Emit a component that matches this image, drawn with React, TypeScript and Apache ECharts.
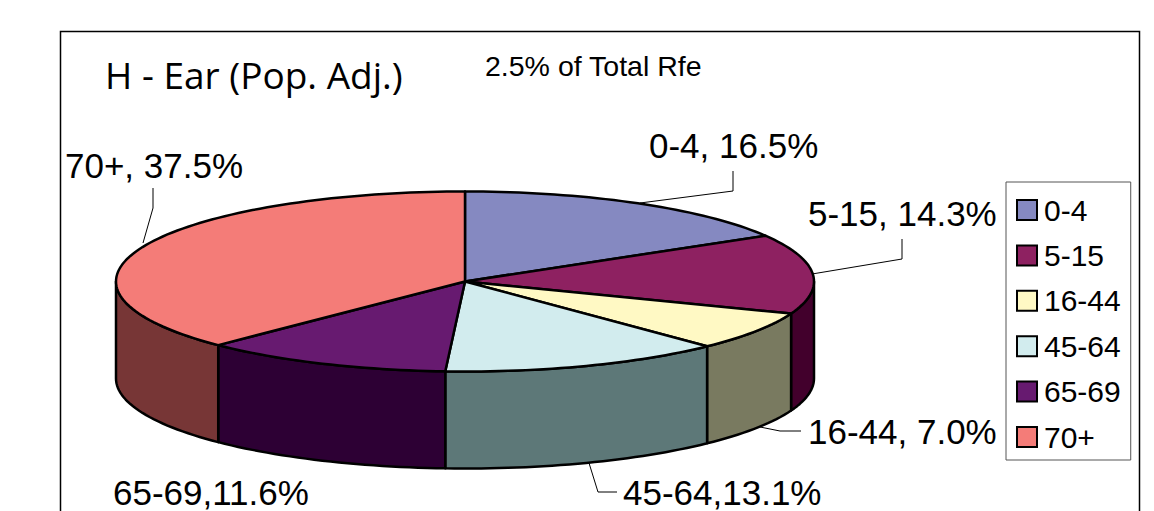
import React, { useEffect, useRef } from "react";
import * as echarts from "echarts";

const categories = ["0-4", "5-15", "16-44", "45-64", "65-69", "70+"];
const shares = [16.5, 14.3, 7.0, 13.1, 11.6, 37.5];
const topColors = ["#8589C1", "#8E2161", "#FFF9C4", "#D2ECEE", "#671A70", "#F47C78"];
const sideColors = ["#42446A", "#42002C", "#797A60", "#5D7878", "#2D0034", "#773636"];
const labelSeparators = [", ", ", ", ", ", ",", ",", ", "];
const labelAnchors = [[649, 145], [808, 213], [808, 431], [623, 492], [113, 492], [65, 165]];
const leaders = [
  [[640, 203], [733, 191], [733, 171]],
  [[812, 274], [902, 259], [902, 239]],
  [[760, 427], [780, 431], [801, 431]],
  [[589, 463], [598, 492], [617, 492]],
  null,
  [[143, 243], [153, 208], [153, 188]],
];

const CX = 465;
const CY = 281.5;
const RX = 349;
const RY = 90;
const DEPTH = 97;

function rim(deg: number, drop = 0): number[] {
  const a = (deg * Math.PI) / 180;
  return [CX + RX * Math.sin(a), CY - RY * Math.cos(a) + drop];
}

function arc(from: number, to: number, drop = 0): number[][] {
  const pts: number[][] = [];
  const steps = Math.max(2, Math.ceil((to - from) / 1.5));
  for (let i = 0; i <= steps; i++) pts.push(rim(from + ((to - from) * i) / steps, drop));
  return pts;
}

function sliceRange(index: number): [number, number] {
  const total = shares.reduce((s, v) => s + v, 0);
  const before = shares.slice(0, index).reduce((s, v) => s + v, 0);
  return [(before / total) * 360, ((before + shares[index]) / total) * 360];
}

export default function App() {
  const ref = useRef<HTMLDivElement>(null);
  useEffect(() => {
    document.body.style.margin = "0";
    const chart = echarts.init(ref.current!, undefined, { renderer: "svg" });
    const stroke = { stroke: "#000", lineWidth: 2.5, lineJoin: "round" };
    const series = categories.map((name, i) => ({
      type: "custom",
      name,
      coordinateSystem: "none",
      data: [shares[i]],
      itemStyle: { color: topColors[i] },
      z: 3,
      renderItem: () => {
        const [a0, a1] = sliceRange(i);
        const children: any[] = [];
        const s0 = Math.max(a0, 90);
        const s1 = Math.min(a1, 270);
        if (s1 > s0) {
          children.push({
            type: "polygon",
            shape: { points: [...arc(s0, s1), ...arc(s0, s1, DEPTH).reverse()] },
            style: { fill: sideColors[i], ...stroke },
          });
        }
        children.push({
          type: "polygon",
          shape: { points: [[CX, CY], ...arc(a0, a1)] },
          style: { fill: topColors[i], ...stroke },
        });
        return { type: "group", children };
      },
    }));
    const graphic: any[] = [
      {
        type: "rect",
        shape: { x: 60.5, y: 31.5, width: 1079, height: 500 },
        style: { fill: "#fff", stroke: "#000", lineWidth: 1.5 },
        z: 0,
      },
      {
        type: "text",
        x: 105,
        y: 74,
        z: 5,
        style: { text: "H - Ear (Pop. Adj.)", font: '37px "Open Sans"', fill: "#000", verticalAlign: "middle" },
      },
      {
        type: "text",
        x: 485,
        y: 66,
        z: 5,
        style: { text: "2.5% of Total Rfe", font: '28.5px "Liberation Sans"', fill: "#000", verticalAlign: "middle" },
      },
    ];
    categories.forEach((name, i) => {
      graphic.push({
        type: "text",
        x: labelAnchors[i][0],
        y: labelAnchors[i][1],
        z: 5,
        style: {
          text: `${name}${labelSeparators[i]}${shares[i].toFixed(1)}%`,
          font: '35px "Liberation Sans"',
          fill: "#000",
          verticalAlign: "middle",
        },
      });
      const leader = leaders[i];
      if (leader) {
        graphic.push({
          type: "polyline",
          z: 5,
          shape: { points: leader },
          style: { stroke: "#000", lineWidth: 1, fill: "none" },
        });
      }
    });
    chart.setOption({
      animation: false,
      backgroundColor: "#fff",
      legend: {
        orient: "vertical",
        left: 1006,
        top: 182,
        padding: [13, 10, 8, 10],
        itemWidth: 20,
        itemHeight: 20,
        itemGap: 15.4,
        icon: "rect",
        borderColor: "#555",
        borderWidth: 1,
        selectedMode: false,
        itemStyle: { borderColor: "#000", borderWidth: 2 },
        textStyle: {
          fontFamily: "Liberation Sans",
          fontSize: 30,
          color: "#000",
          padding: [0, 0, 0, 2],
        },
        data: categories,
        z: 6,
      },
      graphic,
      series,
    });
    return () => chart.dispose();
  }, []);
  return <div ref={ref} style={{ width: 1154, height: 511 }} />;
}
